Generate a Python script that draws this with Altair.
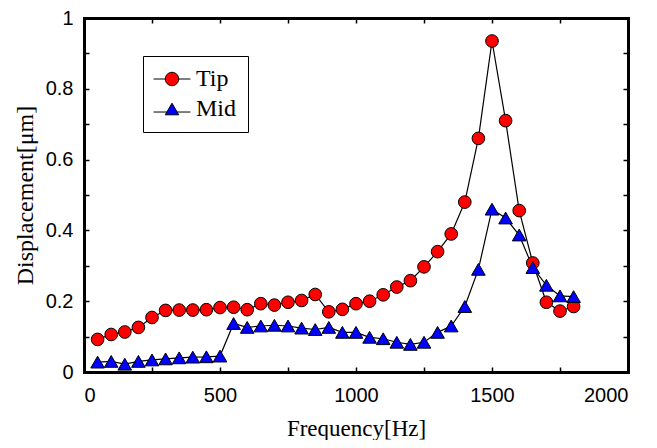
import altair as alt
import pandas as pd

freq = [50, 100, 150, 200, 250, 300, 350, 400, 450, 500, 550, 600, 650, 700, 750, 800, 850, 900,
        950, 1000, 1050, 1100, 1150, 1200, 1250, 1300, 1350, 1400, 1450, 1500, 1550, 1600, 1650,
        1700, 1750, 1800]
tip = [0.092, 0.106, 0.113, 0.126, 0.154, 0.174, 0.175, 0.175, 0.176, 0.182, 0.183, 0.176,
       0.193, 0.189, 0.197, 0.202, 0.219, 0.170, 0.177, 0.193, 0.200, 0.218, 0.240, 0.258,
       0.297, 0.340, 0.390, 0.480, 0.660, 0.935, 0.710, 0.456, 0.308, 0.197, 0.172, 0.185]
mid = [0.028, 0.030, 0.022, 0.030, 0.034, 0.037, 0.040, 0.042, 0.043, 0.045, 0.137, 0.126,
       0.130, 0.132, 0.130, 0.124, 0.120, 0.126, 0.112, 0.112, 0.098, 0.094, 0.084, 0.078,
       0.084, 0.112, 0.130, 0.185, 0.290, 0.460, 0.435, 0.387, 0.295, 0.245, 0.215, 0.213]
series_names = ["Tip", "Mid"]
series_colors = ["#ff0000", "#0000ff"]
x_ticks = [0, 250, 500, 750, 1000, 1250, 1500, 1750, 2000]
y_ticks = [0, 0.1, 0.2, 0.3, 0.4, 0.5, 0.6, 0.7, 0.8, 0.9, 1]

# legend glyphs: marker with a line through it
legend_circle = "M-2.75,0L-1,0M1,0L2.75,0M-1,0A1,1,0,1,1,1,0A1,1,0,1,1,-1,0Z"
legend_triangle = "M-2.75,0.45L-0.72,0.45M0.72,0.45L2.75,0.45M0,-0.866L-1,0.866L1,0.866Z"

rows = []
for name, vals in zip(series_names, [tip, mid]):
    for f, v in zip(freq, vals):
        rows.append({"freq": f, "disp": v, "series": name})
df = pd.DataFrame(rows)

W, H = 544, 354
xs = alt.Scale(domain=[0, 2000], nice=False, zero=False)
ys = alt.Scale(domain=[0, 1], nice=False)

TICK = alt.ExprRef("-5")
common = dict(tickColor="black", tickWidth=1.5, grid=False, domain=True,
              domainColor="black", domainWidth=3, domainCap="square")

ax_bottom = alt.Axis(orient="bottom", values=x_ticks, format="d",
                     labelExpr="datum.value % 500 == 0 ? datum.label : ''",
                     tickSize=TICK, labelFont="Liberation Sans", labelFontSize=20,
                     labelColor="black", labelPadding=18, title="Frequency[Hz]",
                     titleFont="Liberation Serif", titleFontSize=23, titleFontWeight="normal",
                     titleColor="black", titleY=56, titleBaseline="middle", **common)
ax_left = alt.Axis(orient="left", values=y_ticks, format="~g",
                   labelExpr="round(datum.value * 10) % 2 == 0 ? datum.label : ''",
                   tickSize=TICK, labelFont="Liberation Sans", labelFontSize=20,
                   labelColor="black", labelPadding=16, title="Displacement[μm]",
                   titleFont="Liberation Serif", titleFontSize=24, titleFontWeight="normal",
                   titleColor="black", titleX=-59, titleBaseline="middle", **common)
ax_top = alt.Axis(orient="top", values=x_ticks, labels=False, tickSize=TICK, title="",
                  **common)
ax_right = alt.Axis(orient="right", values=y_ticks, labels=False, tickSize=TICK, title="",
                    **common)

lines = alt.Chart(df).mark_line(color="black", strokeWidth=1.2).encode(
    x=alt.X("freq:Q", scale=xs, axis=ax_bottom),
    y=alt.Y("disp:Q", scale=ys, axis=ax_left),
    detail="series:N",
)

points = alt.Chart(df).mark_point(filled=True, stroke="black", strokeWidth=1,
                                   opacity=1).encode(
    x=alt.X("freq:Q", scale=xs, axis=ax_top),
    y=alt.Y("disp:Q", scale=ys, axis=ax_right),
    fill=alt.Fill("series:N", scale=alt.Scale(domain=series_names, range=series_colors),
                  legend=None),
    shape=alt.Shape("series:N", scale=alt.Scale(domain=series_names,
                                                 range=["circle", "triangle-up"]),
                    legend=None),
    size=alt.Size("series:N", scale=alt.Scale(domain=series_names, range=[160, 185]),
                  legend=None),
)

leg = alt.Legend(title=None, orient="none", legendX=59, legendY=38,
                 strokeColor="black", fillColor="white", padding=11,
                 labelFont="Liberation Serif", labelFontSize=24, labelColor="black",
                 symbolSize=180, symbolStrokeColor="black", symbolStrokeWidth=1,
                 symbolOffset=6, labelOffset=12, rowPadding=6, cornerRadius=0)

legend_layer = alt.Chart(df).transform_filter("false").mark_point(
    filled=True, strokeWidth=1, opacity=1).encode(
    fill=alt.Fill("series:N", scale=alt.Scale(domain=series_names, range=series_colors),
                  legend=leg),
    shape=alt.Shape("series:N", scale=alt.Scale(domain=series_names,
                                                 range=[legend_circle, legend_triangle]),
                    legend=leg),
    stroke=alt.Stroke("series:N", scale=alt.Scale(domain=series_names,
                                                   range=["black", "black"]),
                      legend=leg),
)

chart = alt.layer(lines, points, legend_layer).resolve_axis(
    x="independent", y="independent"
).resolve_scale(
    shape="independent", fill="independent", stroke="independent"
).properties(
    width=W, height=H,
    autosize=alt.AutoSizeParams(type="none"),
    padding={"left": 76, "top": 10, "right": 21, "bottom": 68},
).configure_view(stroke="black", strokeWidth=3).configure(background="white")

chart.save("out.html", embed_options={"renderer": "svg", "actions": False})
